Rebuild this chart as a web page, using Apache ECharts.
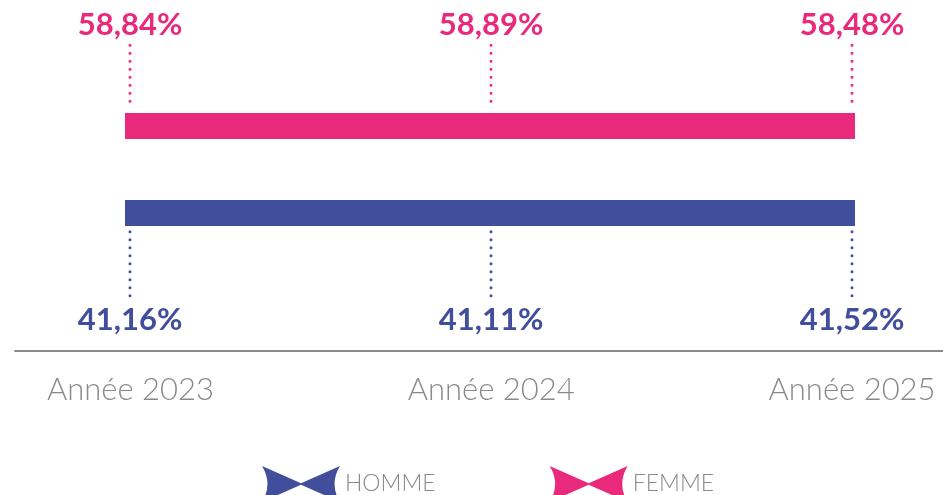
<!DOCTYPE html>
<html lang="fr">
<head>
    <meta charset="UTF-8">
    <title>Répartition hommes / femmes</title>
    <script src="https://cdn.jsdelivr.net/npm/echarts@6.0.0/dist/echarts.min.js"></script>
    <style>
        html, body { margin: 0; padding: 0; background: #fff; }
        #chart { width: 943px; height: 495px; }
    </style>
</head>
<body>
<div id="chart"></div>
<script>
// données
const categories = ['Année 2023', 'Année 2024', 'Année 2025']
const femme = [58.84, 58.89, 58.48]
const homme = [41.16, 41.11, 41.52]

const PINK = '#E9297C'
const BLUE = '#414E9B'
const GREY = '#8a8a8a'
// hauteur (échelle y masquée 0..100) où passe chaque bande
const LEVEL = { femme: 64, homme: 39.4 }
const BOWTIE = 'path://M0,0 L50,48 L100,0 Q86,50 100,100 L50,52 L0,100 Q14,50 0,0 Z'

function fmt(v) {
    return v.toFixed(2).replace('.', ',') + '%'
}

function bandSeries(name, values, level, color, above) {
    return {
        name: name,
        type: 'custom',
        itemStyle: { color: color },
        data: values.map((v, i) => [i, v]),
        renderItem(params, api) {
            const i = api.value(0)
            const p = api.coord([i, level])
            const n = values.length
            const left = i === 0 ? p[0] - 5 : (api.coord([i - 1, level])[0] + p[0]) / 2
            const right = i === n - 1 ? p[0] + 3 : (api.coord([i + 1, level])[0] + p[0]) / 2
            const top = p[1] - 13
            const bottom = p[1] + 13
            const x = Math.round(p[0])
            let y1, y2, ty
            if (above) {
                y1 = top - 68; y2 = top - 4; ty = top - 88
            } else {
                y1 = bottom + 6; y2 = bottom + 74; ty = bottom + 94
            }
            return {
                type: 'group',
                children: [
                    {
                        type: 'rect',
                        shape: { x: Math.round(left), y: Math.round(top), width: Math.round(right) - Math.round(left), height: 26 },
                        style: { fill: color }
                    },
                    {
                        type: 'line',
                        shape: { x1: x, y1: y1, x2: x, y2: y2 },
                        style: { stroke: color, lineWidth: 3, lineDash: [0, 8], lineCap: 'round' }
                    },
                    {
                        type: 'text',
                        style: {
                            text: fmt(api.value(1)),
                            x: x, y: ty,
                            align: 'center', verticalAlign: 'middle',
                            fill: color,
                            font: 'bold 31px Lato'
                        }
                    }
                ]
            }
        }
    }
}

const chart = echarts.init(document.getElementById('chart'))
chart.setOption({
    animation: false,
    grid: { left: 15, right: 0, top: 0, bottom: 144 },
    xAxis: {
        type: 'value',
        min: -0.32,
        max: 2.252,
        splitLine: { show: false },
        axisTick: { show: false },
        axisLine: { show: true, lineStyle: { color: GREY, width: 2 } },
        axisLabel: {
            customValues: [0, 1, 2],
            formatter: v => categories[Math.round(v)],
            margin: 23,
            color: GREY,
            fontFamily: 'Lato',
            fontWeight: 300,
            fontSize: 31
        }
    },
    yAxis: { type: 'value', min: 0, max: 100, show: false },
    legend: {
        left: 257,
        top: 461,
        itemWidth: 78,
        itemHeight: 36,
        itemGap: 114,
        selectedMode: false,
        symbolKeepAspect: false,
        textStyle: { color: GREY, fontFamily: 'Lato', fontWeight: 300, fontSize: 23 },
        data: [
            { name: 'HOMME', icon: BOWTIE },
            { name: 'FEMME', icon: BOWTIE }
        ]
    },
    series: [
        bandSeries('FEMME', femme, LEVEL.femme, PINK, true),
        bandSeries('HOMME', homme, LEVEL.homme, BLUE, false)
    ]
})
</script>
</body>
</html>
